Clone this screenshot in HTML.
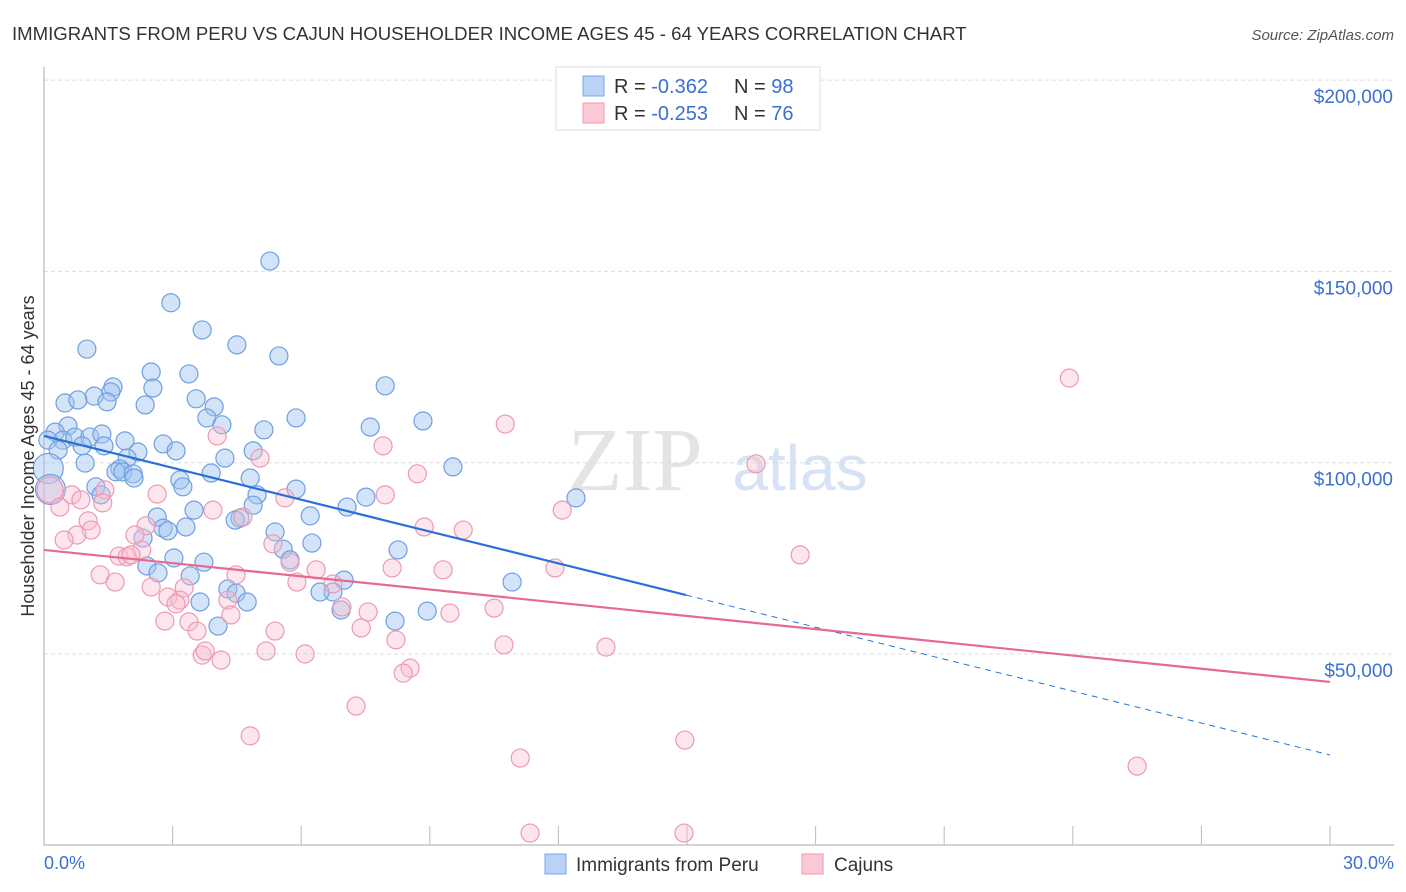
<!DOCTYPE html>
<html><head><meta charset="utf-8"><style>
body{margin:0;background:#fff;font-family:"Liberation Sans",sans-serif;}
svg{display:block}
</style></head><body>
<svg id="chart" width="1406" height="892">
<text x="12" y="40" font-size="18.6" fill="#333">IMMIGRANTS FROM PERU VS CAJUN HOUSEHOLDER INCOME AGES 45 - 64 YEARS CORRELATION CHART</text>
<text x="1394" y="40" font-size="15" fill="#555" font-style="italic" text-anchor="end">Source: ZipAtlas.com</text>
<text x="635" y="490" font-size="90" fill="#e4e4e4" font-family="Liberation Serif,serif" text-anchor="middle">ZIP</text>
<text x="800" y="490" font-size="64" fill="#d6e3f5" text-anchor="middle">atlas</text>
<g id="grid"></g>
<g id="axes"></g>
<g id="pts"></g>
<g id="trend"></g>
<text transform="translate(34,456) rotate(-90)" font-size="18" fill="#333" text-anchor="middle">Householder Income Ages 45 - 64 years</text>
<text x="44" y="869" font-size="18" fill="#3b6fd4">0.0%</text>
<text x="1394" y="869" font-size="18" fill="#3b6fd4" text-anchor="end">30.0%</text>
<g>
<rect x="556" y="67" width="264" height="63" fill="#fff" stroke="#ddd"/>
<rect x="583" y="76" width="21" height="20" fill="#b8d3f5" stroke="#7aa7e8"/>
<rect x="583" y="103" width="21" height="20" fill="#fbc8d6" stroke="#ee9ab2"/>
<text x="614" y="93" font-size="20" fill="#333">R = <tspan fill="#3b6fd4">-0.362</tspan><tspan dx="26">N = </tspan><tspan fill="#3b6fd4">98</tspan></text>
<text x="614" y="120" font-size="20" fill="#333">R = <tspan fill="#3b6fd4">-0.253</tspan><tspan dx="26">N = </tspan><tspan fill="#3b6fd4">76</tspan></text>
</g>
<g>
<rect x="545" y="854" width="21" height="20" fill="#b8d3f5" stroke="#7aa7e8"/>
<text x="576" y="871" font-size="19" fill="#333">Immigrants from Peru</text>
<rect x="802" y="854" width="21" height="20" fill="#fbc8d6" stroke="#ee9ab2"/>
<text x="834" y="871" font-size="19" fill="#333">Cajuns</text>
</g>
</svg>
<script>
const yTicks=[50000,100000,150000,200000];
const yTickLabels=["$50,000","$100,000","$150,000","$200,000"];
const peruX=[5.27,2.96,3.69,1.00,4.50,5.48,2.50,3.38,1.61,2.54,7.96,1.56,1.17,0.49,0.79,1.47,2.36,3.55,3.97,5.88,3.80,8.84,7.61,4.15,5.13,0.56,0.26,0.44,0.72,1.07,1.35,0.09,1.89,1.40,0.89,2.78,2.19,3.08,0.33,4.88,4.22,1.94,0.96,9.54,1.77,1.68,1.84,2.08,2.10,3.90,4.81,3.17,3.24,1.21,5.88,1.33,4.97,7.51,12.41,4.88,7.07,3.50,6.21,4.57,4.46,2.64,2.78,3.31,2.89,5.39,2.31,6.25,5.58,5.74,8.26,3.73,3.03,2.40,2.66,3.41,10.92,7.00,6.74,6.44,4.29,4.48,4.74,3.64,6.93,8.94,8.19,4.06,0.1,0.15];
const peruY=[152.7,141.8,134.7,129.7,130.8,127.9,123.7,123.2,119.8,119.5,120.1,118.5,117.4,115.6,116.4,115.9,115.1,116.7,114.6,111.7,111.7,110.9,109.3,109.9,108.6,109.6,108.0,105.9,106.7,106.7,107.5,105.9,105.7,104.4,104.4,104.9,102.8,103.1,103.3,103.1,101.2,101.2,99.9,98.9,98.4,97.6,97.6,97.1,96.0,97.3,96.0,95.5,93.7,93.7,93.1,91.6,91.6,91.0,90.8,88.9,88.4,87.6,86.1,85.5,85.0,85.8,82.9,83.2,82.2,81.9,80.3,79.0,77.4,74.6,77.2,74.0,75.1,73.0,71.2,70.4,68.8,69.3,66.2,66.2,67.0,65.9,63.6,63.6,61.5,61.2,58.6,57.3,98.5,93.0];
const cajunX=[23.92,10.76,4.04,7.91,5.04,16.61,8.71,0.14,0.65,2.64,7.96,1.42,0.86,5.62,1.37,0.37,3.94,12.09,4.64,1.03,2.38,8.87,9.78,1.10,0.77,2.12,0.47,5.34,2.28,17.64,1.75,1.94,2.03,5.74,11.92,9.31,8.12,6.35,1.31,4.48,5.90,6.74,1.66,3.27,2.50,2.89,3.17,3.08,4.29,6.95,10.50,7.56,9.47,4.36,2.82,3.38,7.40,5.39,3.57,8.21,10.73,13.11,5.18,6.09,3.69,3.76,4.13,8.54,8.38,7.28,4.81,14.95,11.11,25.50,11.34,14.93];
const cajunY=[122.1,110.1,107.0,104.4,101.2,99.7,97.1,92.9,91.6,91.8,91.6,92.9,90.3,90.8,89.5,88.4,87.6,87.6,85.8,84.8,83.5,83.2,82.4,82.4,81.1,81.1,79.8,78.8,77.2,75.9,75.6,75.4,75.9,74.0,72.5,72.0,72.5,72.0,70.7,70.7,68.8,68.3,68.8,67.3,67.5,64.9,64.1,63.1,64.1,62.3,62.0,61.0,60.7,60.2,58.6,58.4,56.8,56.0,56.0,53.7,52.4,51.8,50.8,50.0,49.7,50.8,48.4,46.3,45.0,36.4,28.6,27.5,22.8,20.7,3.2,3.2];
const peruTrend=[107.0,65.4,23.6];
const cajunTrend=[77.2,42.7];
const NS="http://www.w3.org/2000/svg";
function xs(p){return 44+p*(1286/30);}
function ys(v){return 845.3-v*(191.3/50000);}
function mk(tag,attrs,parent){const e=document.createElementNS(NS,tag);for(const k in attrs)e.setAttribute(k,attrs[k]);parent.appendChild(e);return e;}
const grid=document.getElementById('grid'),axes=document.getElementById('axes'),pts=document.getElementById('pts'),trend=document.getElementById('trend');
yTicks.forEach((t,i)=>{
 const l=mk('line',{x1:44,x2:1394,y1:ys(t),y2:ys(t),stroke:'#ddd','stroke-dasharray':'4,3'},grid);
 
 
 const tx=mk('text',{x:1393,y:ys(t)+23,'font-size':19,fill:'#3b6fd4','text-anchor':'end'},grid);
 tx.textContent=yTickLabels[i];
 
 
});
const ya=mk('line',{x1:44,x2:44,y1:67,y2:845,stroke:'#aaa'},axes);


const xa=mk('line',{x1:44,x2:1394,y1:845,y2:845,stroke:'#aaa'},axes);


for(let i=1;i<=10;i++){
 const tk=mk('line',{x1:xs(i*3),x2:xs(i*3),y1:826,y2:845,stroke:'#bbb'},axes);
 
 
}
peruX.forEach((x,i)=>{
 const big=i>=peruX.length-2;
 const c=mk('circle',{cx:xs(x),cy:ys(peruY[i]*1000),r:big?15:9,fill:'rgba(160,196,240,0.45)',stroke:'#6f9fe0','stroke-width':1.2},pts);
 
 
});
cajunX.forEach((x,i)=>{
 const c=mk('circle',{cx:xs(x),cy:ys(cajunY[i]*1000),r:i==7?13:9,fill:'rgba(248,190,208,0.4)',stroke:'#ec9ab3','stroke-width':1.2},pts);
 
 
});
const pl=mk('line',{x1:xs(0),y1:ys(peruTrend[0]*1000),x2:xs(14.98),y2:ys(peruTrend[1]*1000),stroke:'#2b6fd8','stroke-width':2.2},trend);


const pd=mk('line',{x1:xs(14.98),y1:ys(peruTrend[1]*1000),x2:xs(30),y2:ys(peruTrend[2]*1000),stroke:'#2b6fd8','stroke-width':1,'stroke-dasharray':'6,5'},trend);


const cl=mk('line',{x1:xs(0),y1:ys(cajunTrend[0]*1000),x2:xs(30),y2:ys(cajunTrend[1]*1000),stroke:'#e46a94','stroke-width':2.2},trend);


</script>
</body></html>
